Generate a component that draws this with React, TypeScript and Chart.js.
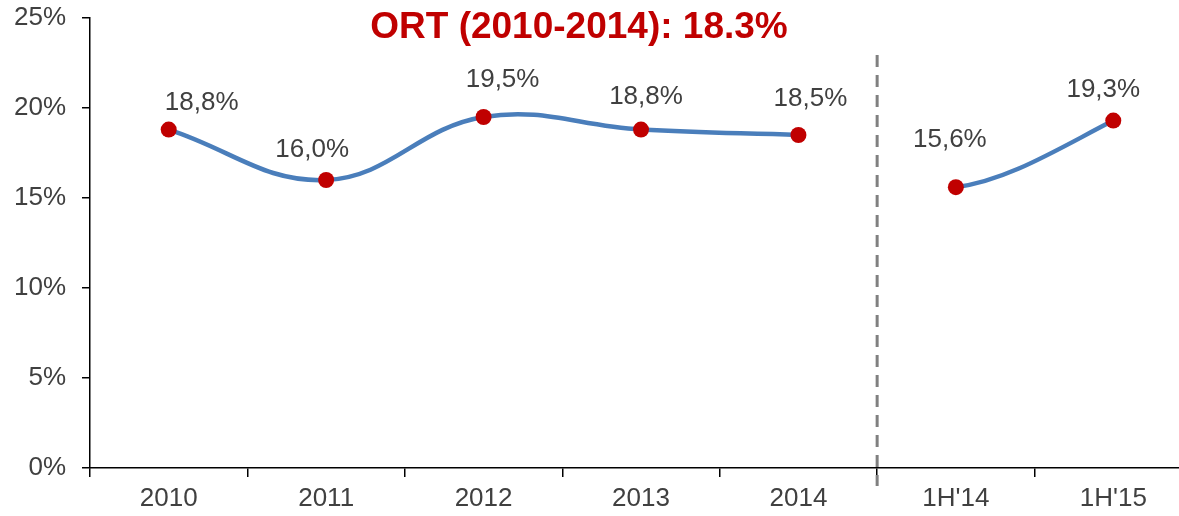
import React, { useEffect, useRef } from "react";
import { Chart, registerables } from "chart.js";

Chart.register(...registerables);

const categories = ["2010", "2011", "2012", "2013", "2014", "1H'14", "1H'15"];
const annualValues = [18.8, 16.0, 19.5, 18.8, 18.5, null, null];
const halfYearValues = [null, null, null, null, null, 15.6, 19.3];
const valueLabels = ["18,8%", "16,0%", "19,5%", "18,8%", "18,5%", "15,6%", "19,3%"];
const yTicks = [0, 5, 10, 15, 20, 25];
const titleText = "ORT (2010-2014): 18.3%";

// label placement relative to each point (layout, not data)
const labelDx = [33, -14, 19, 5, 12, -6, -10];
const labelDy = [-27, -30, -37, -33, -36, -47, -31];

const FONT = "'Liberation Sans', Arial, sans-serif";
const TEXT = "#404040";
const RED = "#C00000";
const BLUE = "#4A7EBB";
const LINE_W = 4.5;

export default function App() {
  const ref = useRef<HTMLCanvasElement>(null);

  useEffect(() => {
    const canvas = ref.current!;
    const overlay = {
      id: "overlay",
      beforeDatasetsDraw(chart: any) {
        const ctx = chart.ctx;
        const x = chart.scales.x.getPixelForValue(4.5);
        ctx.save();
        ctx.strokeStyle = "#808080";
        ctx.lineWidth = 3;
        ctx.setLineDash([12, 8]);
        ctx.beginPath();
        ctx.moveTo(x, 55);
        ctx.lineTo(x, 486);
        ctx.stroke();
        ctx.restore();

        // smoothed two-point segment for the half-year series
        const meta = chart.getDatasetMeta(1);
        const pts = meta.data.filter((p: any, i: number) => halfYearValues[i] !== null);
        if (pts.length === 2) {
          const [a, b] = pts;
          const dx = b.x - a.x;
          const dy = b.y - a.y;
          ctx.save();
          ctx.strokeStyle = BLUE;
          ctx.lineWidth = LINE_W;
          ctx.lineCap = "round";
          ctx.beginPath();
          ctx.moveTo(a.x, a.y);
          ctx.bezierCurveTo(a.x + dx / 3, a.y + dy * 0.1, b.x - dx / 3, b.y - dy * 0.4, b.x, b.y);
          ctx.stroke();
          ctx.restore();
        }
      },
      afterDatasetsDraw(chart: any) {
        const ctx = chart.ctx;
        ctx.save();
        ctx.font = `26px ${FONT}`;
        ctx.fillStyle = TEXT;
        ctx.textAlign = "center";
        ctx.textBaseline = "middle";
        chart.data.datasets.forEach((ds: any, di: number) => {
          const meta = chart.getDatasetMeta(di);
          ds.data.forEach((v: any, i: number) => {
            if (v === null) return;
            const pt = meta.data[i];
            ctx.fillText(valueLabels[i], pt.x + labelDx[i], pt.y + labelDy[i]);
          });
        });
        ctx.font = `bold 37px ${FONT}`;
        ctx.fillStyle = RED;
        ctx.fillText(titleText, 579, 28);
        ctx.restore();
      },
    };

    const dsStyle = {
      borderColor: BLUE,
      borderWidth: LINE_W,
      tension: 0.4,
      pointRadius: 8,
      pointBackgroundColor: RED,
      pointBorderColor: RED,
      pointBorderWidth: 0,
      fill: false,
      spanGaps: false,
    };

    const chart = new Chart(canvas, {
      type: "line",
      data: {
        labels: categories,
        datasets: [
          { ...dsStyle, data: annualValues },
          { ...dsStyle, data: halfYearValues, showLine: false },
        ],
      },
      options: {
        responsive: false,
        animation: false,
        layout: { padding: { top: 18, right: 7.5, left: 0, bottom: 0 } },
        plugins: {
          legend: { display: false },
          tooltip: { enabled: false },
          title: { display: false },
        },
        scales: {
          x: {
            type: "category",
            offset: true,
            grid: {
              offset: true,
              drawOnChartArea: false,
              drawTicks: true,
              tickLength: 9,
              color: "#000000",
              lineWidth: 1.5,
            },
            border: { display: true, color: "#000000", width: 1.5 },
            ticks: {
              color: TEXT,
              font: { family: FONT, size: 26 },
              padding: 6,
              maxRotation: 0,
              autoSkip: false,
            },
            afterFit(scale: any) {
              scale.height = 48;
              scale.paddingLeft = 0;
              scale.paddingRight = 0;
            },
          },
          y: {
            min: 0,
            max: 25,
            afterBuildTicks(scale: any) {
              scale.ticks = yTicks.map((v) => ({ value: v }));
            },
            grid: {
              drawOnChartArea: false,
              drawTicks: true,
              tickLength: 8,
              color: "#000000",
              lineWidth: 1.5,
            },
            border: { display: true, color: "#000000", width: 1.5 },
            ticks: {
              color: TEXT,
              font: { family: FONT, size: 26 },
              padding: 16,
              callback: (v: any) => `${v}%`,
            },
            afterFit(scale: any) {
              scale.width = 90;
              scale.paddingTop = 0;
              scale.paddingBottom = 0;
            },
          },
        },
      },
      plugins: [overlay],
    });
    return () => chart.destroy();
  }, []);

  return (
    <div
      style={{
        position: "fixed",
        left: 0,
        top: 0,
        width: 1179,
        height: 516,
        overflow: "hidden",
        background: "#ffffff",
      }}
    >
      <canvas ref={ref} width={1200} height={516} style={{ display: "block", width: 1200, height: 516 }} />
    </div>
  );
}
